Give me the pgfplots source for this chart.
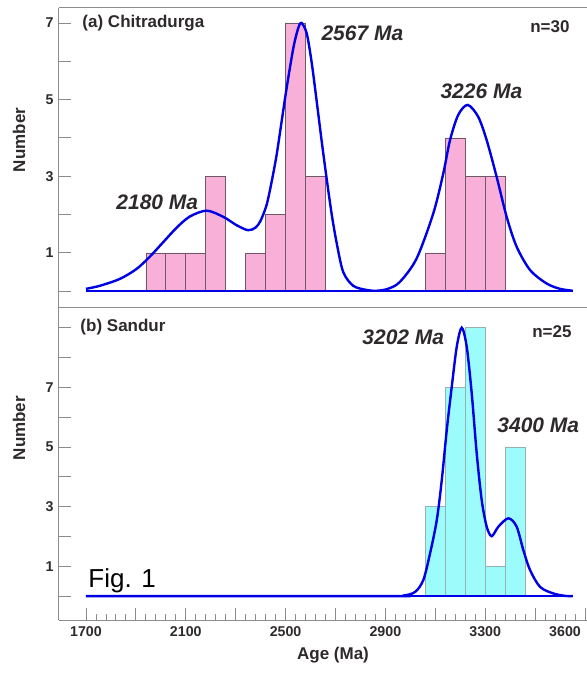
\documentclass[border=0pt]{standalone}
\usepackage{fontspec}
\setmainfont{Liberation Sans}
\usepackage{pgfplots}
\pgfplotsset{compat=1.18}

\definecolor{pinkbar}{HTML}{F8B0D8}
\definecolor{pinkedge}{HTML}{6E5A64}
\definecolor{cyanbar}{HTML}{9CFCFC}
\definecolor{cyanedge}{HTML}{9AB0B0}
\definecolor{pdfblue}{HTML}{0000E6}
\definecolor{axgray}{HTML}{8C8C8C}
\definecolor{txt}{HTML}{2E2A2B}

\tikzset{
  lbl/.style={font=\bfseries\fontsize{17}{19}\selectfont, text=txt},
  age/.style={font=\bfseries\itshape\fontsize{21}{23}\selectfont, text=txt, anchor=west},
}
\pgfplotsset{
  panel/.style={
    scale only axis, width=528pt,
    xmin=1592, xmax=3708,
    axis x line*=box, axis y line*=left,
    tick align=inside,
    axis line style={draw=axgray, line width=1pt},
    every tick/.style={draw=axgray, line width=0.8pt},
    major tick length=12pt, minor tick length=6pt,
    tick label style={font=\bfseries\fontsize{14.2}{16}\selectfont, text=txt},
    yticklabel style={xshift=-2pt},
    /pgf/number format/assume math mode=true,
    ylabel={Number},
    ylabel style={font=\bfseries\fontsize{17}{19}\selectfont, text=txt, anchor=center},
    clip=false,
  },
  bars/.style={ybar, bar width=80, bar shift=0pt, line width=0.6pt},
  pdf/.style={draw=pdfblue, line width=2.4pt, smooth, no marks},
}

\begin{document}
\begin{tikzpicture}
\useasboundingbox (-59pt,-53pt) rectangle (528pt,620pt);

% (b) Sandur
\begin{axis}[panel, name=bot, at={(0pt,0pt)}, anchor=south west,
  height=312pt, ymin=-0.8, ymax=9.66,
  ytick={0,...,9}, yticklabels={,1,,3,,5,,7,,},
  xtick pos=bottom,
  xtick={1700,1900,...,3700},
  xticklabels={1700,,2100,,2500,,2900,,3300,,},
  minor x tick num=4,
  extra x ticks={3620}, extra x tick labels={3600},
  extra x tick style={major tick length=0pt},
  xticklabel style={yshift=-3pt},
  ylabel style={at={(axis description cs:-0.0758,0.615)}},
  xlabel={Age (Ma)},
  xlabel style={font=\bfseries\fontsize{17}{19}\selectfont, text=txt,
    at={(axis description cs:0.519,-0.112)}, anchor=center},
]
\addplot[bars, fill=cyanbar, draw=cyanedge] coordinates {
  (3100,3) (3180,7) (3260,9) (3340,1) (3420,5)};
\addplot[pdf] coordinates {
  (1700,0) (2900,0) (2972,0.02) (3019,0.14) (3052,0.54) (3079,1.43)
  (3106,2.55) (3126,3.89) (3146,5.57) (3166,7.02) (3186,8.36) (3206,9.00)
  (3226,8.36) (3246,6.80) (3266,4.79) (3286,3.22) (3306,2.33) (3326,2.01)
  (3353,2.33) (3393,2.61) (3426,2.33) (3453,1.54) (3480,0.87) (3520,0.31)
  (3573,0.09) (3620,0.01) (3650,0)};
\addplot[draw=pdfblue, line width=2.4pt, no marks] coordinates {(1700,0) (3650,0)};
\node[lbl, anchor=west] at (axis cs:1664,9.03) {(b) Sandur};
\node[lbl, anchor=east] at (axis cs:3660,8.86) {n=25};
\node[age] at (axis cs:2794,8.69) {3202 Ma};
\node[age] at (axis cs:3335,5.74) {3400 Ma};
\node[anchor=base west, font=\fontsize{26}{28}\selectfont, text=black] at (axis cs:1696,0.3) {Fig. 1};
\end{axis}

% (a) Chitradurga
\begin{axis}[panel, name=top, at={(0pt,312pt)}, anchor=south west,
  height=300pt, ymin=-0.44, ymax=7.39,
  ytick={0,...,7}, yticklabels={,1,,3,,5,,7},
  xtick=\empty,
  ylabel style={at={(axis description cs:-0.0758,0.56)}},
]
\addplot[bars, fill=pinkbar, draw=pinkedge] coordinates {
  (1980,1) (2060,1) (2140,1) (2220,3)
  (2380,1) (2460,2) (2540,7) (2620,3)
  (3100,1) (3180,4) (3260,3) (3340,3)};
\addplot[pdf] coordinates {
  (1700,0.06) (1756,0.14) (1836,0.32) (1903,0.58) (1956,0.90) (2010,1.28)
  (2064,1.66) (2117,1.95) (2184,2.10) (2250,1.94) (2304,1.72) (2350,1.59)
  (2380,1.66) (2400,1.84) (2424,2.25) (2444,2.85) (2464,3.55) (2484,4.42)
  (2504,5.29) (2531,6.34) (2550,6.85) (2564,7.00) (2585,6.72) (2605,5.95)
  (2625,4.94) (2645,3.90) (2665,2.92) (2685,2.00) (2705,1.25) (2731,0.50)
  (2771,0.14) (2825,0.03) (2865,0.01) (2910,0.06) (2958,0.24) (3025,0.85)
  (3092,2.03) (3132,3.07) (3159,3.94) (3192,4.60) (3230,4.86) (3272,4.55)
  (3306,3.94) (3346,2.98) (3386,1.94) (3426,1.16) (3480,0.55) (3546,0.20)
  (3600,0.06) (3651,0.01)};
\addplot[draw=pdfblue, line width=2.4pt, no marks] coordinates {(1700,0) (3651,0)};
\node[lbl, anchor=west] at (axis cs:1672,7) {(a) Chitradurga};
\node[lbl, anchor=east] at (axis cs:3652,6.89) {n=30};
\node[age] at (axis cs:1808,2.33) {2180 Ma};
\node[age] at (axis cs:2630,6.74) {2567 Ma};
\node[age] at (axis cs:3107,5.22) {3226 Ma};
\end{axis}
\end{tikzpicture}
\end{document}
